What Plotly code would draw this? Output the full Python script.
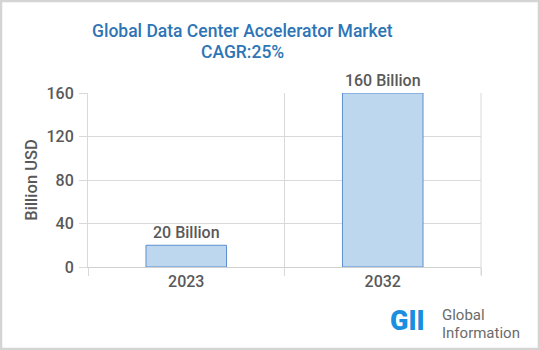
import plotly.graph_objects as go

years = ["2023", "2032"]
values = [20, 160]
labels = ["20 Billion", "160 Billion"]
yticks = [0, 40, 80, 120, 160]
title_lines = ["Global Data Center Accelerator Market", "CAGR:25%"]

W, H = 540, 350
L, R, T, B = 88, 59, 93, 83
pw, ph = W - L - R, H - T - B

def px(x):
    return (x - L) / pw

def py(y):
    return (H - B - y) / ph

GRAY = "#595959"
FNT = "Roboto"

fig = go.Figure()
fig.add_trace(go.Bar(
    x=years, y=values, text=labels, textposition="outside",
    textfont=dict(family=FNT, size=16, color=GRAY, weight=500),
    marker=dict(color="#BDD7EE", line=dict(color="#5B8FD0", width=1)),
    cliponaxis=False, width=0.41,
))

fig.update_layout(
    width=W, height=H,
    margin=dict(l=L, r=R, t=T, b=B),
    paper_bgcolor="white", plot_bgcolor="white",
    showlegend=False,
    xaxis=dict(
        type="category", tickson="boundaries",
        showgrid=True, gridcolor="#D9D9D9", gridwidth=1,
        ticks="outside", ticklen=8, tickcolor="#D9D9D9",
        showline=True, linecolor="#D0D0D0", mirror=False,
        tickfont=dict(family=FNT, size=16, color=GRAY, weight=500),
    ),
    yaxis=dict(
        range=[0, 160], tickvals=yticks,
        showgrid=True, gridcolor="#D9D9D9", gridwidth=1,
        ticks="outside", ticklen=8, tickcolor="#D9D9D9",
        zeroline=False, showline=True, linecolor="#D9D9D9",
        tickfont=dict(family=FNT, size=16, color=GRAY, weight=500),
        ticklabelstandoff=2,
        title=dict(text="Billion USD", standoff=4,
                   font=dict(family=FNT, size=16.5, color=GRAY, weight=500)),
    ),
    font=dict(family=FNT, color=GRAY),
)

# right boundary line of the plot area
fig.add_shape(type="line", xref="paper", yref="paper",
              x0=1, x1=1, y0=py(275), y1=1,
              line=dict(color="#D9D9D9", width=1))

fig.add_shape(type="rect", xref="paper", yref="paper",
              x0=px(1), x1=px(W - 1), y0=py(H - 1), y1=py(1),
              line=dict(color="#D4D4D4", width=2.5), layer="above")

for txt, yc in zip(title_lines, [31, 52]):
    fig.add_annotation(text=txt, xref="paper", yref="paper",
                       x=px(242), y=py(yc), xanchor="center", yanchor="middle",
                       showarrow=False,
                       font=dict(family=FNT, size=17.5, color="#2E75B6", weight=500))

fig.add_annotation(text="GII", xref="paper", yref="paper",
                   x=px(388), y=py(321), xanchor="left", yanchor="middle",
                   showarrow=False,
                   font=dict(family=FNT, size=27, color="#1A8FE0", weight=900))
fig.add_annotation(text="Global", xref="paper", yref="paper",
                   x=px(440), y=py(315), xanchor="left", yanchor="middle",
                   showarrow=False,
                   font=dict(family=FNT, size=15, color="#6B6B6B"))
fig.add_annotation(text="Information", xref="paper", yref="paper",
                   x=px(440), y=py(333), xanchor="left", yanchor="middle",
                   showarrow=False,
                   font=dict(family=FNT, size=15, color="#6B6B6B"))

fig.write_html("out.html")
